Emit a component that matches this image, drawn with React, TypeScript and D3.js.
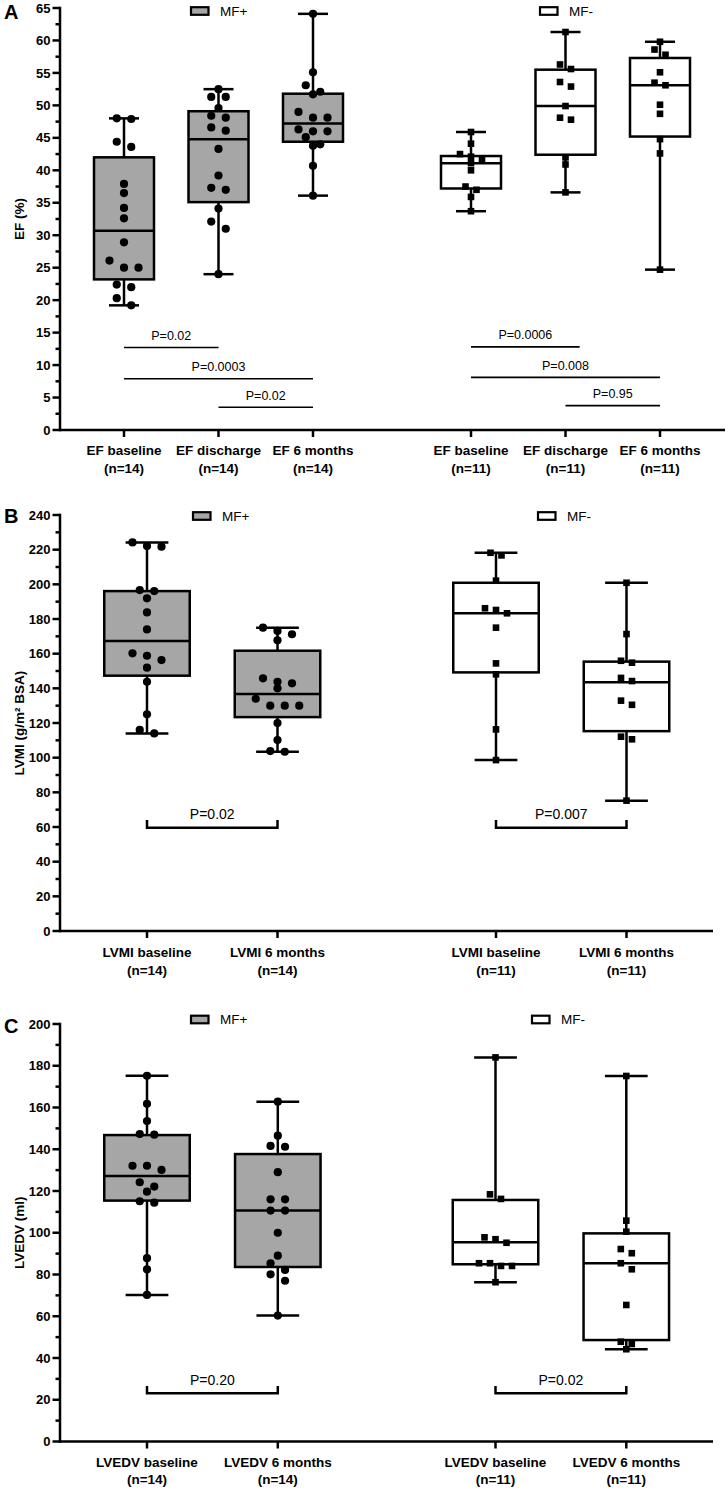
import React from "react";
import * as d3 from "d3";

// ---------------- DATA ----------------
const groupNames = ["MF+", "MF-"];
const groupCounts = ["(n=14)", "(n=11)"];

// Panel A – EF (%)
const efCategories = ["EF baseline", "EF discharge", "EF 6 months"];
const efMFplusBaseline = [48.0, 47.9, 44.4, 43.6, 37.9, 36.5, 34.2, 32.6, 28.9, 26.1, 25.0, 25.0, 22.4, 22.0, 20.3, 19.2];
const efMFplusDischarge = [52.5, 51.3, 51.3, 49.6, 48.4, 48.1, 46.6, 46.1, 43.3, 39.2, 37.3, 37.0, 34.1, 32.1, 31.0, 24.0];
const efMFplus6m = [64.1, 55.1, 53.1, 52.1, 51.7, 49.0, 48.1, 48.1, 46.3, 46.0, 46.0, 45.1, 44.0, 43.8, 40.7, 36.1];
const efMFminusBaseline = [45.9, 44.1, 42.5, 42.1, 41.6, 41.1, 40.0, 37.5, 37.0, 35.9, 33.7];
const efMFminusDischarge = [61.3, 56.3, 55.6, 53.6, 52.9, 49.9, 48.1, 47.8, 42.0, 40.9, 36.6];
const efMFminus6m = [59.8, 58.6, 57.8, 55.1, 53.5, 53.1, 50.1, 48.7, 44.8, 42.6, 24.7];
const efQ1 = [[23.2, 35.1, 44.4], [37.2, 42.4, 45.2]];
const efMedian = [[30.7, 44.8, 47.2], [41.1, 49.9, 53.1]];
const efQ3 = [[42.0, 49.1, 51.8], [42.2, 55.5, 57.3]];
const efPLabels = ["P=0.02", "P=0.0003", "P=0.02", "P=0.0006", "P=0.008", "P=0.95"];
const efPGroup = [0, 0, 0, 1, 1, 1];
const efPFrom = [0, 0, 1, 0, 0, 1];
const efPTo = [1, 2, 2, 1.15, 2, 2];
const efPLevel = [12.7, 7.9, 3.5, 12.8, 8.1, 3.75];

// Panel B – LVMI (g/m² BSA)
const lvmiCategories = ["LVMI baseline", "LVMI 6 months"];
const lvmiMFplusBaseline = [224.2, 222.1, 221.7, 196.7, 196.1, 191.9, 183.8, 174.0, 160.2, 158.8, 156.3, 151.9, 143.8, 125.0, 116.0, 114.0];
const lvmiMFplus6m = [175.0, 173.1, 171.2, 167.7, 145.8, 143.8, 142.9, 140.0, 134.0, 130.0, 130.0, 130.0, 120.0, 110.2, 103.8, 103.4];
const lvmiMFminusBaseline = [218.2, 216.7, 202.1, 186.2, 185.2, 183.3, 175.0, 154.4, 148.1, 116.3, 98.6];
const lvmiMFminus6m = [200.9, 171.3, 155.9, 154.8, 146.0, 144.2, 132.9, 130.5, 112.1, 110.6, 75.2];
const lvmiQ1 = [[147.3, 123.4], [149.2, 115.3]];
const lvmiMedian = [[167.3, 136.7], [183.3, 143.5]];
const lvmiQ3 = [[196.1, 161.7], [200.9, 155.4]];
const lvmiPLabels = ["P=0.02", "P=0.007"];
const lvmiPLevel = 59.6;
const lvmiPTop = 64.0;

// Panel C – LVEDV (ml)
const lvedvCategories = ["LVEDV baseline", "LVEDV 6 months"];
const lvedvMFplusBaseline = [175.2, 161.8, 153.5, 147.3, 147.0, 132.1, 132.1, 130.1, 124.2, 122.1, 119.7, 115.1, 114.4, 87.8, 82.5, 70.2];
const lvedvMFplus6m = [162.8, 146.5, 141.6, 141.2, 129.0, 116.0, 116.0, 110.6, 110.6, 100.0, 89.0, 85.4, 82.2, 80.1, 77.0, 60.3];
const lvedvMFminusBaseline = [184.0, 118.4, 116.2, 97.8, 96.9, 95.2, 85.4, 85.4, 84.1, 84.1, 76.3];
const lvedvMFminus6m = [175.1, 105.8, 100.5, 92.2, 90.2, 85.4, 82.5, 65.4, 47.8, 46.7, 44.2];
const lvedvQ1 = [[115.4, 83.6], [84.9, 48.6]];
const lvedvMedian = [[127.2, 110.6], [95.4, 85.4]];
const lvedvQ3 = [[146.8, 137.7], [115.7, 99.7]];
const lvedvPLabels = ["P=0.20", "P=0.02"];
const lvedvPLevel = 23.1;
const lvedvPTop = 26.6;

// ---------------- STYLE / LAYOUT ----------------
const FONT = "'Liberation Sans', Arial, Helvetica, sans-serif";
const GREY = "#a6a6a6";
const SW = 2.5;
const AXIS_X = 60;

type Layout = {
  letter: string;
  yTitle: string;
  domain: [number, number];
  major: number;
  minor: number;
  yTop: number;
  yBottom: number;
  x0: number;
  step: number;
  gap: number;
  boxW: number;
  axisEnd: number;
  legendX: [number, number];
  legendY: number;
  letterY: number;
  pFont: number;
  labelDy: [number, number];
};

function rows(values: number[], y: (v: number) => number, spacing: number, thresh: number) {
  const items = values.map((v, i) => ({ i, py: y(v) })).sort((a, b) => a.py - b.py);
  const off = new Array(values.length).fill(0);
  let k = 0;
  while (k < items.length) {
    let j = k + 1;
    while (j < items.length && items[j].py - items[k].py < thresh) j++;
    const n = j - k;
    for (let m = 0; m < n; m++) off[items[k + m].i] = (m - (n - 1) / 2) * spacing;
    k = j;
  }
  return off;
}

type PAnn = { group: number; from: number; to: number; level: number; label: string; bracketTop?: number };

function Panel({
  L,
  categories,
  series,
  q1,
  med,
  q3,
  ann,
}: {
  L: Layout;
  categories: string[];
  series: number[][][];
  q1: number[][];
  med: number[][];
  q3: number[][];
  ann: PAnn[];
}) {
  const y = d3.scaleLinear().domain(L.domain).range([L.yBottom, L.yTop]);
  const nC = categories.length;
  const groupStart = d3
    .scaleLinear()
    .domain([0, 1])
    .range([L.x0, L.x0 + (nC - 1) * L.step + L.gap]);
  const xPos = (g: number, i: number) => groupStart(g) + i * L.step;

  const majors = d3.range(L.domain[0], L.domain[1] + 1e-6, L.major);
  const minors = d3
    .range(L.domain[0], L.domain[1] + 1e-6, L.minor)
    .filter((v) => Math.abs(v / L.major - Math.round(v / L.major)) > 1e-6);

  const yMid = (L.yTop + L.yBottom) / 2;

  return (
    <g>
      {/* panel letter */}
      <text x={4} y={L.letterY} fontFamily={FONT} fontWeight="bold" fontSize={20}>
        {L.letter}
      </text>
      {/* y title */}
      <text
        transform={`translate(23.5,${yMid}) rotate(-90)`}
        textAnchor="middle"
        fontFamily={FONT}
        fontWeight="bold"
        fontSize={13.5}
      >
        {L.yTitle}
      </text>
      {/* minor ticks */}
      {minors.map((v) => (
        <line key={"mi" + v} x1={AXIS_X - 4.5} x2={AXIS_X} y1={y(v)} y2={y(v)} stroke="#000" strokeWidth={SW} />
      ))}
      {/* major ticks + labels */}
      {majors.map((v) => (
        <g key={"ma" + v}>
          <line x1={AXIS_X - 7.5} x2={AXIS_X} y1={y(v)} y2={y(v)} stroke="#000" strokeWidth={SW} />
          <text
            x={AXIS_X - 9.5}
            y={y(v) + 4.6}
            textAnchor="end"
            fontFamily={FONT}
            fontWeight="bold"
            fontSize={13}
          >
            {v}
          </text>
        </g>
      ))}
      {/* axes */}
      <line x1={AXIS_X} x2={AXIS_X} y1={L.yTop} y2={L.yBottom} stroke="#000" strokeWidth={SW} strokeLinecap="square" />
      <line x1={AXIS_X} x2={L.axisEnd} y1={L.yBottom} y2={L.yBottom} stroke="#000" strokeWidth={SW} />

      {/* categories */}
      {groupNames.map((gName, g) =>
        categories.map((c, i) => {
          const cx = xPos(g, i);
          return (
            <g key={"cat" + g + i}>
              <line x1={cx} x2={cx} y1={L.yBottom} y2={L.yBottom + 7} stroke="#000" strokeWidth={SW} />
              <text
                x={cx}
                y={L.yBottom + L.labelDy[0]}
                textAnchor="middle"
                fontFamily={FONT}
                fontWeight="bold"
                fontSize={13.5}
              >
                {c}
              </text>
              <text
                x={cx}
                y={L.yBottom + L.labelDy[1]}
                textAnchor="middle"
                fontFamily={FONT}
                fontWeight="bold"
                fontSize={13.5}
              >
                {groupCounts[g]}
              </text>
            </g>
          );
        })
      )}

      {/* boxes */}
      {groupNames.map((gName, g) =>
        categories.map((c, i) => {
          const vals = series[g][i];
          const cx = xPos(g, i);
          const bw = L.boxW;
          const cap = bw / 2;
          const lo = d3.min(vals) as number;
          const hi = d3.max(vals) as number;
          const fill = g === 0 ? GREY : "#fff";
          const yQ1 = y(q1[g][i]);
          const yQ3 = y(q3[g][i]);
          const yMed = y(med[g][i]);
          const isCircle = g === 0;
          const off = rows(vals, y, isCircle ? 14.5 : 11, isCircle ? 7.5 : 6.5);
          return (
            <g key={"box" + g + i}>
              <line x1={cx} x2={cx} y1={y(hi)} y2={yQ3} stroke="#000" strokeWidth={SW} />
              <line x1={cx} x2={cx} y1={yQ1} y2={y(lo)} stroke="#000" strokeWidth={SW} />
              <line x1={cx - cap / 2} x2={cx + cap / 2} y1={y(hi)} y2={y(hi)} stroke="#000" strokeWidth={SW} />
              <line x1={cx - cap / 2} x2={cx + cap / 2} y1={y(lo)} y2={y(lo)} stroke="#000" strokeWidth={SW} />
              <rect
                x={cx - bw / 2}
                y={yQ3}
                width={bw}
                height={yQ1 - yQ3}
                fill={fill}
                stroke="#000"
                strokeWidth={SW}
              />
              <line x1={cx - bw / 2} x2={cx + bw / 2} y1={yMed} y2={yMed} stroke="#000" strokeWidth={SW} />
              {vals.map((v, k) =>
                isCircle ? (
                  <circle key={k} cx={cx + off[k]} cy={y(v)} r={4.1} fill="#000" />
                ) : (
                  <rect key={k} x={cx + off[k] - 3.3} y={y(v) - 3.3} width={6.6} height={6.6} fill="#000" />
                )
              )}
            </g>
          );
        })
      )}

      {/* p-value annotations */}
      {ann.map((a, k) => {
        const x1 = xPos(a.group, a.from);
        const x2 = xPos(a.group, a.to);
        const yl = y(a.level);
        if (a.bracketTop !== undefined) {
          const yt = y(a.bracketTop);
          return (
            <g key={"p" + k}>
              <path
                d={`M${x1},${yt}V${yl}H${x2}V${yt}`}
                fill="none"
                stroke="#000"
                strokeWidth={SW}
              />
              <text
                x={(x1 + x2) / 2}
                y={yt - 1}
                textAnchor="middle"
                fontFamily={FONT}
                fontSize={L.pFont}
              >
                {a.label}
              </text>
            </g>
          );
        }
        return (
          <g key={"p" + k}>
            <line x1={x1} x2={x2} y1={yl} y2={yl} stroke="#000" strokeWidth={1.6} />
            <text x={(x1 + x2) / 2} y={yl - 7.5} textAnchor="middle" fontFamily={FONT} fontSize={L.pFont}>
              {a.label}
            </text>
          </g>
        );
      })}

      {/* legend */}
      {groupNames.map((gName, g) => (
        <g key={"leg" + g}>
          <rect
            x={L.legendX[g]}
            y={L.legendY - 3.8}
            width={17.5}
            height={7.6}
            fill={g === 0 ? GREY : "#fff"}
            stroke="#000"
            strokeWidth={2.2}
          />
          <text x={L.legendX[g] + 29} y={L.legendY + 4.8} fontFamily={FONT} fontSize={13.5}>
            {gName}
          </text>
        </g>
      ))}
    </g>
  );
}

const layoutA: Layout = {
  letter: "A",
  yTitle: "EF (%)",
  domain: [0, 65],
  major: 5,
  minor: 2.5,
  yTop: 8,
  yBottom: 430,
  x0: 124,
  step: 94.5,
  gap: 158,
  boxW: 60,
  axisEnd: 725,
  legendX: [191, 540],
  legendY: 11,
  letterY: 19,
  pFont: 12.5,
  labelDy: [25, 43],
};

const layoutB: Layout = {
  letter: "B",
  yTitle: "LVMI (g/m² BSA)",
  domain: [0, 240],
  major: 20,
  minor: 10,
  yTop: 515,
  yBottom: 931,
  x0: 147,
  step: 130.5,
  gap: 218.5,
  boxW: 85.5,
  axisEnd: 713,
  legendX: [193, 538],
  legendY: 516,
  letterY: 523,
  pFont: 14,
  labelDy: [26, 43.5],
};

const layoutC: Layout = {
  letter: "C",
  yTitle: "LVEDV (ml)",
  domain: [0, 200],
  major: 20,
  minor: 10,
  yTop: 1024,
  yBottom: 1441.5,
  x0: 147,
  step: 130.8,
  gap: 217.7,
  boxW: 85.5,
  axisEnd: 713,
  legendX: [191, 532],
  legendY: 1019.5,
  letterY: 1033,
  pFont: 14,
  labelDy: [25, 42],
};

export default function App() {
  const efSeries = [
    [efMFplusBaseline, efMFplusDischarge, efMFplus6m],
    [efMFminusBaseline, efMFminusDischarge, efMFminus6m],
  ];
  const lvmiSeries = [
    [lvmiMFplusBaseline, lvmiMFplus6m],
    [lvmiMFminusBaseline, lvmiMFminus6m],
  ];
  const lvedvSeries = [
    [lvedvMFplusBaseline, lvedvMFplus6m],
    [lvedvMFminusBaseline, lvedvMFminus6m],
  ];
  const efAnn: PAnn[] = efPLabels.map((label, k) => ({
    group: efPGroup[k],
    from: efPFrom[k],
    to: efPTo[k],
    level: efPLevel[k],
    label,
  }));
  const lvmiAnn: PAnn[] = lvmiPLabels.map((label, g) => ({
    group: g,
    from: 0,
    to: 1,
    level: lvmiPLevel,
    bracketTop: lvmiPTop,
    label,
  }));
  const lvedvAnn: PAnn[] = lvedvPLabels.map((label, g) => ({
    group: g,
    from: 0,
    to: 1,
    level: lvedvPLevel,
    bracketTop: lvedvPTop,
    label,
  }));
  return (
    <svg
      width={728}
      height={1490}
      viewBox="0 0 728 1490"
      style={{ position: "absolute", left: 0, top: 0, background: "#fff" }}
    >
      <rect x={0} y={0} width={728} height={1490} fill="#fff" />
      <Panel L={layoutA} categories={efCategories} series={efSeries} q1={efQ1} med={efMedian} q3={efQ3} ann={efAnn} />
      <Panel L={layoutB} categories={lvmiCategories} series={lvmiSeries} q1={lvmiQ1} med={lvmiMedian} q3={lvmiQ3} ann={lvmiAnn} />
      <Panel L={layoutC} categories={lvedvCategories} series={lvedvSeries} q1={lvedvQ1} med={lvedvMedian} q3={lvedvQ3} ann={lvedvAnn} />
    </svg>
  );
}
